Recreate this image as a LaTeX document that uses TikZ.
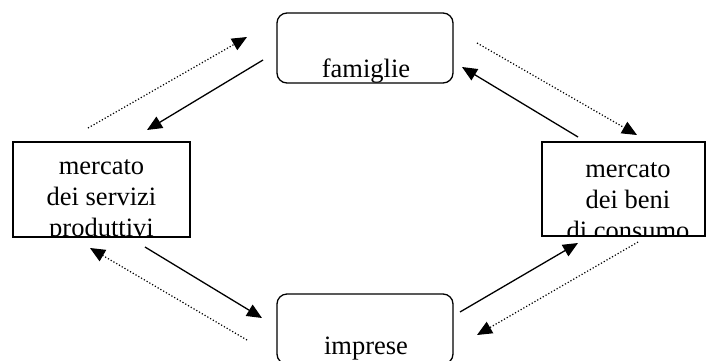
\documentclass[tikz,border=0pt]{standalone}
\usepackage{fontspec}
\setmainfont{Liberation Serif}
\usetikzlibrary{arrows.meta}
\begin{document}
\begin{tikzpicture}[x=1pt,y=-1pt,
  rbox/.style={draw,line width=1.3pt,rounded corners=10pt,inner sep=0pt,minimum width=176pt,minimum height=70pt},
  sbox/.style={draw,line width=1.3pt,inner sep=0pt},
  txt/.style={font=\fontsize{26.5}{31}\selectfont,align=center,inner sep=0pt},
  flow/.style={line width=1.3pt,-{Triangle[length=15pt,width=13pt]}},
  money/.style={line width=1.2pt,dotted,-{Triangle[length=15pt,width=13pt]}}]
\useasboundingbox (0,0) rectangle (706,360);
% boxes
\node[rbox] (fam) at (365,48) {};
\node[txt,anchor=base] (famt) at (366,77) {famiglie};
\node[rbox] (imp) at (365,329) {};
\node[txt,anchor=base] (impt) at (366,354) {imprese};
\node[sbox,minimum width=177pt,minimum height=95pt] (msp) at (101.5,189.5) {};
\node[sbox,minimum width=163pt,minimum height=94pt] (mbc) at (623.5,189) {};
\begin{scope}
\clip (msp.north west) rectangle (msp.south east);
\node[txt] (mspt) at (101.5,201) {mercato\\dei servizi\\produttivi};
\end{scope}
\begin{scope}
\clip (mbc.north west) rectangle (mbc.south east);
\node[txt] (mbct) at (628,201) {mercato\\dei beni\\di consumo};
\end{scope}
% endpoints
\coordinate (a1) at (263,60);  \coordinate (a2) at (147,130);
\coordinate (b1) at (88,128);  \coordinate (b2) at (247,37);
\coordinate (c1) at (578,137); \coordinate (c2) at (462,67);
\coordinate (d1) at (477,43);  \coordinate (d2) at (637,135);
\coordinate (e1) at (145,247); \coordinate (e2) at (262,318);
\coordinate (f1) at (247,340); \coordinate (f2) at (90,248);
\coordinate (g1) at (460,312); \coordinate (g2) at (578,243);
\coordinate (h1) at (638,242); \coordinate (h2) at (477,335);
\draw[flow] (a1) -- (a2);
\draw[money] (b1) -- (b2);
\draw[flow] (c1) -- (c2);
\draw[money] (d1) -- (d2);
\draw[flow] (e1) -- (e2);
\draw[money] (f1) -- (f2);
\draw[flow] (g1) -- (g2);
\draw[money] (h1) -- (h2);
\end{tikzpicture}
\end{document}
